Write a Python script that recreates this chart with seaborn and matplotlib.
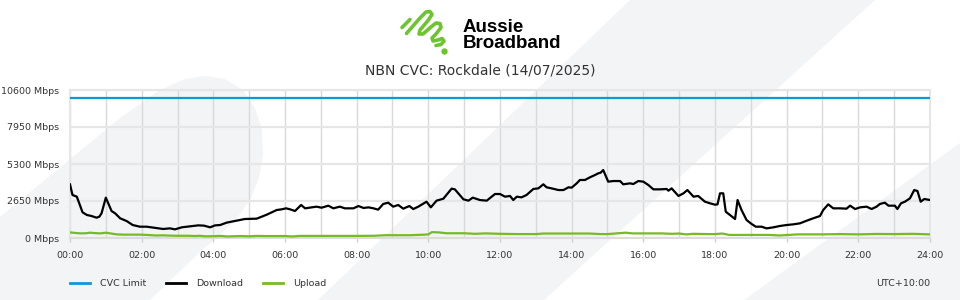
import numpy as np
import pandas as pd
import matplotlib
matplotlib.use("Agg")
import matplotlib.pyplot as plt
import seaborn as sns
from matplotlib.patches import Polygon
from matplotlib.lines import Line2D

# ---------------- data ----------------
title = "NBN CVC: Rockdale (14/07/2025)"
series_names = ["CVC Limit", "Download", "Upload"]
series_colors = ["#0f97d8", "#000000", "#77bb22"]

cvc_hours = [0, 24]
cvc_mbps = [10000, 10000]

download_hours = [0.0, 0.07, 0.19, 0.35, 0.47, 0.6, 0.74, 0.82, 0.88, 1.0, 1.16, 1.26, 1.4, 1.58,
                  1.75, 1.95, 2.14, 2.33, 2.6, 2.79, 2.93, 3.12, 3.35, 3.58, 3.74, 3.91, 4.05, 4.19,
                  4.37, 4.56, 4.74, 4.88, 5.21, 5.35, 5.49, 5.63, 5.77, 5.91, 6.03, 6.14, 6.28, 6.45,
                  6.56, 6.74, 6.88, 7.02, 7.21, 7.35, 7.53, 7.67, 7.91, 8.05, 8.19, 8.33, 8.47, 8.6,
                  8.74, 8.88, 9.02, 9.16, 9.3, 9.47, 9.58, 9.72, 9.95, 10.07, 10.23, 10.42, 10.65,
                  10.74, 10.98, 11.12, 11.24, 11.44, 11.63, 11.86, 12.0, 12.14, 12.28, 12.37, 12.47,
                  12.6, 12.74, 12.93, 13.07, 13.21, 13.3, 13.44, 13.63, 13.77, 13.91, 14.0, 14.14,
                  14.23, 14.37, 14.51, 14.65, 14.74, 14.81, 14.88, 15.02, 15.16, 15.35, 15.44, 15.63,
                  15.72, 15.86, 16.0, 16.14, 16.28, 16.47, 16.65, 16.7, 16.79, 16.98, 17.12, 17.23,
                  17.4, 17.53, 17.72, 17.86, 18.0, 18.07, 18.14, 18.23, 18.3, 18.42, 18.56, 18.63,
                  18.74, 18.88, 19.02, 19.14, 19.3, 19.44, 19.63, 19.81, 20.0, 20.19, 20.37, 20.56,
                  20.74, 20.93, 21.02, 21.16, 21.3, 21.49, 21.67, 21.77, 21.91, 22.05, 22.23, 22.37,
                  22.51, 22.6, 22.74, 22.84, 23.02, 23.09, 23.19, 23.3, 23.44, 23.56, 23.65, 23.74,
                  23.84, 24.0]
download_mbps = [3840, 3080, 2960, 1840, 1650, 1575, 1455, 1530, 1765, 2890, 1930, 1765, 1410, 1215,
                 930, 810, 810, 740, 645, 690, 620, 765, 835, 905, 885, 765, 905, 930,
                 1100, 1195, 1290, 1360, 1385, 1530, 1670, 1840, 2005, 2055, 2125, 2055, 1935, 2365,
                 2125, 2195, 2245, 2170, 2315, 2125, 2245, 2125, 2125, 2290, 2150, 2195, 2125, 2030,
                 2435, 2530, 2245, 2365, 2100, 2290, 2075, 2245, 2600, 2195, 2675, 2815, 3535,
                 3485, 2770, 2675, 2890, 2720, 2675, 3150, 3150, 2960, 3010, 2720, 2960,
                 2910, 3080, 3510, 3555, 3845, 3630, 3555, 3435, 3435, 3630, 3605, 3915,
                 4155, 4155, 4345, 4510, 4630, 4680, 4870, 4035, 4080, 4080, 3845, 3915,
                 3865, 4080, 4035, 3795, 3485, 3485, 3510, 3390, 3555, 3010, 3200, 3435,
                 2960, 3010, 2600, 2485, 2385, 2410, 3200, 3200, 1885, 1645, 1360, 2720,
                 2005, 1290, 1005, 810, 810, 690, 765, 860, 930, 980, 1050, 1240,
                 1410, 1575, 2005, 2410, 2125, 2125, 2100, 2315, 2075, 2195, 2245, 2075,
                 2245, 2435, 2530, 2315, 2315, 2075, 2485, 2600, 2840, 3435, 3365, 2600,
                 2795, 2720]

upload_hours = [0.0, 0.15, 0.3, 0.45, 0.55, 0.7, 0.85, 1.0, 1.15, 1.3, 1.5, 1.8, 2.0, 2.2, 2.4, 2.6,
                2.8, 3.0, 3.3, 3.5, 3.6, 3.8, 4.0, 4.2, 4.4, 4.6, 4.8, 5.0, 5.2, 5.5, 6.0, 6.2, 6.4,
                7.0, 8.0, 8.5, 8.8, 9.5, 9.9, 10.0, 10.1, 10.3, 10.5, 11.0, 11.3, 11.6, 12.0, 12.5,
                13.0, 13.2, 14.0, 14.5, 14.8, 15.0, 15.2, 15.5, 15.7, 16.0, 16.5, 16.8, 17.0, 17.2,
                17.4, 17.8, 18.0, 18.2, 18.4, 19.0, 19.5, 19.8, 20.0, 20.3, 21.0, 21.5, 22.0, 22.5,
                23.0, 23.5, 24.0]
upload_mbps = [400, 360, 330, 340, 380, 350, 330, 380, 320, 260, 240, 240, 240, 210, 180, 190,
               170, 160, 160, 140, 160, 120, 130, 150, 110, 130, 140, 120, 150, 140, 140, 110, 150,
               150, 150, 160, 200, 200, 240, 260, 420, 400, 340, 340, 300, 330, 300, 280,
               280, 320, 320, 320, 280, 280, 320, 380, 330, 330, 330, 300, 320, 260,
               300, 280, 280, 320, 220, 220, 220, 180, 210, 260, 260, 280, 260, 290,
               280, 300, 260]

y_ticks = [0, 2650, 5300, 7950, 10600]
y_tick_labels = [f"{v} Mbps" for v in y_ticks]
x_tick_hours = list(range(0, 25, 2))
x_tick_labels = [f"{h:02d}:00" for h in x_tick_hours]
timezone_label = "UTC+10:00"
brand_text = "Aussie\nBroadband"

# ---------------- figure ----------------
W, H = 960, 300
fig = plt.figure(figsize=(W / 100, H / 100), dpi=100)
fig.patch.set_facecolor("white")


def fpx(pts):
    return [(x / W, 1 - y / H) for x, y in pts]


# background watermark shapes
bg = "#f3f4f6"
blob = [(0, 300), (0, 217), (40, 184), (80, 151), (120, 118), (160, 90), (185, 79), (205, 76),
        (225, 79), (243, 90), (255, 108), (262, 130), (263, 155), (259, 178), (250, 200),
        (235, 221), (200, 252), (150, 300)]
band_b = [(318, 300), (630, 0), (875, 0), (544, 300)]
band_c = [(960, 143), (744, 300), (960, 300)]
for shp in (blob, band_b, band_c):
    fig.patches.append(Polygon(fpx(shp), closed=True, transform=fig.transFigure,
                               facecolor=bg, edgecolor="none", zorder=-10))

ax = fig.add_axes([70 / W, (H - 238) / H, 860 / W, 148 / H])
ax.set_zorder(2)
ax.patch.set_alpha(0)

frames = []
for name, hrs, vals in zip(series_names,
                           [cvc_hours, download_hours, upload_hours],
                           [cvc_mbps, download_mbps, upload_mbps]):
    frames.append(pd.DataFrame({"hour": hrs, "mbps": vals, "series": name}))
df = pd.concat(frames, ignore_index=True)

palette = dict(zip(series_names, series_colors))
sns.lineplot(data=df, x="hour", y="mbps", hue="series", hue_order=series_names,
             palette=palette, estimator=None, sort=False, linewidth=1.6, ax=ax,
             legend=False, zorder=3)

ax.set_xlim(0, 24)
ax.set_ylim(0, 10600)
ax.set_xticks(x_tick_hours)
ax.set_xticklabels(x_tick_labels)
ax.set_xticks(range(0, 25), minor=True)
ax.set_yticks(y_ticks)
ax.set_yticklabels(y_tick_labels)
ax.set_xlabel("")
ax.set_ylabel("")

ax.grid(False)
for h in range(0, 25):
    ax.axvline(h, color="#d9d9d9", lw=1.0, zorder=1)
for v in y_ticks:
    ax.axhline(v, color="#e6e6e6", lw=1.6, zorder=1)

for s in ["top", "left", "right"]:
    ax.spines[s].set_color("#e6e6e6")
    ax.spines[s].set_linewidth(1.5)
ax.spines["bottom"].set_color("#dcdcdc")
ax.spines["bottom"].set_linewidth(1.5)

ax.tick_params(axis="y", length=0, pad=7.5, labelsize=6.8, labelcolor="#333333")
ax.tick_params(axis="x", which="major", length=3, width=1, color="#d0d0d0", pad=6,
               labelsize=6.8, labelcolor="#333333")
ax.tick_params(axis="x", which="minor", length=0)

# title
fig.text(480 / W, 1 - 70 / H, title, ha="center", va="center", fontsize=10,
         color="#333333", family="DejaVu Sans")

# brand logo text (two lines, tight spacing)
fig.text(463 / W, 1 - 47.5 / H, brand_text, ha="left", va="baseline", fontsize=13.5,
         fontweight="bold", family="Liberation Sans", color="#000000", linespacing=0.92)

# brand logo swirl (decoration)
green = "#6cc52f"
logo_paths = [
    [(402, 27.5), (406, 23.5), (410, 19.5)],
    [(406.5, 33.5), (413, 26), (420, 18), (426, 12), (430, 11.5), (432, 14.5), (428, 20.5),
     (420, 30), (419, 34), (423, 34), (431, 27), (436, 23), (440, 23.5), (441, 27.5),
     (436, 34), (432, 38), (433, 41), (438, 40), (442, 38.5), (444, 41), (441, 44.5), (436, 45.5)],
]
for pth in logo_paths:
    xy = fpx(pth)
    fig.add_artist(Line2D([p[0] for p in xy], [p[1] for p in xy], transform=fig.transFigure,
                          color=green, lw=2.6, solid_capstyle="round", solid_joinstyle="round"))
dot = fpx([(443.5, 50.5)])[0]
fig.add_artist(Line2D([dot[0]], [dot[1]], transform=fig.transFigure, marker="o",
                      markersize=3.6, color=green, lw=0))

# legend
handles = [Line2D([], [], color=c, lw=2) for c in series_colors]
fig.legend(handles, series_names, loc="center left", bbox_to_anchor=(70 / W, 1 - 284 / H),
           ncol=3, frameon=False, fontsize=6.8, handlelength=2.13, handletextpad=1.06,
           columnspacing=2.1, borderpad=0, borderaxespad=0, labelcolor="#333333")

fig.text(930 / W, 1 - 284 / H, timezone_label, ha="right", va="center", fontsize=6.8,
         color="#333333")

fig.savefig("out.png", dpi=100, facecolor="white")
